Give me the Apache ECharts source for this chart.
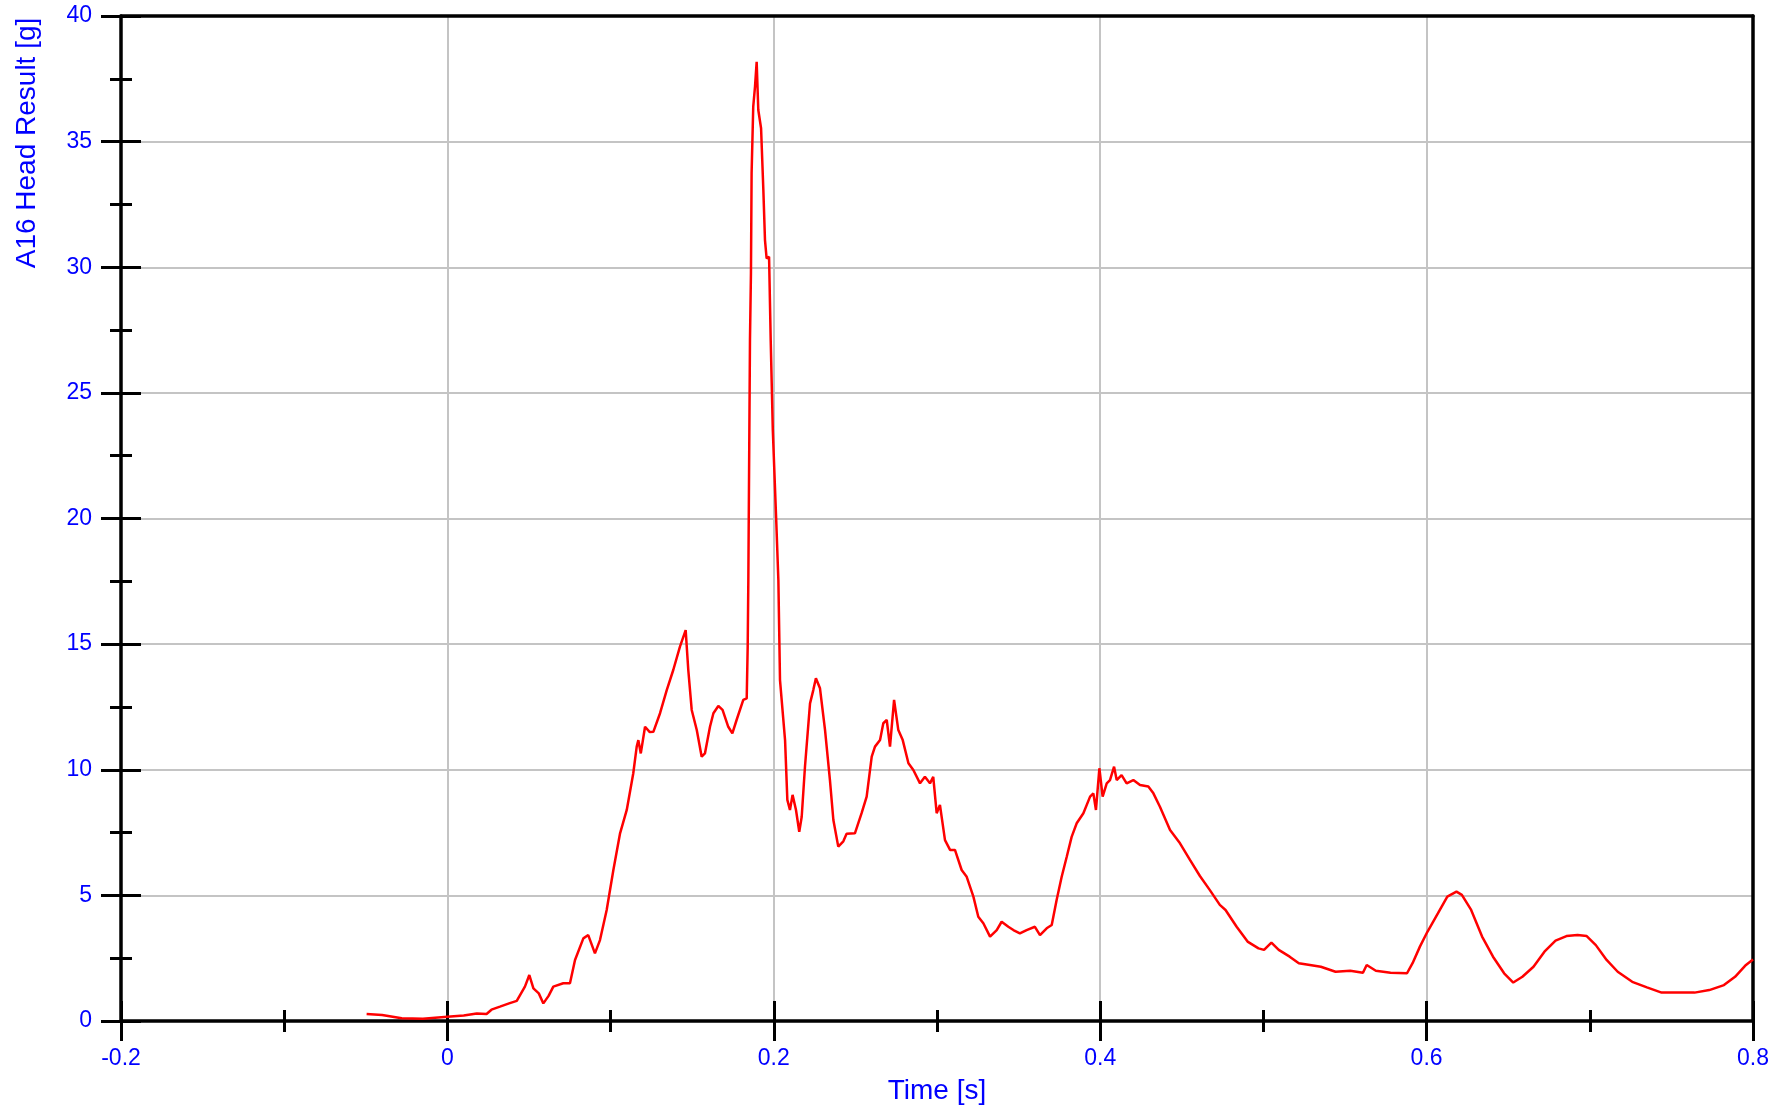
<!DOCTYPE html>
<html>
<head>
<meta charset="utf-8">
<script src="https://cdn.jsdelivr.net/npm/echarts@6/dist/echarts.min.js"></script>
<style>
html,body{margin:0;padding:0;background:#fff;}
#chart{width:1774px;height:1107px;}
</style>
</head>
<body>
<div id="chart"></div>
<script>
// Time [s]
const timeS = [
-0.0495,-0.040,-0.028,-0.015,0.000,0.010,0.018,0.024,0.027,0.0322,0.0378,0.0425,0.0475,0.0502,0.0527,0.0560,0.0588,0.0620,0.0649,0.0710,
0.0751,0.0782,0.0833,0.0863,0.0904,0.0935,0.0976,0.1017,0.1058,0.1099,0.1139,0.1160,0.1170,0.1185,0.1211,0.1240,0.1262,0.1303,0.1344,0.1384,
0.1425,0.1460,0.1476,0.1497,0.1528,0.1558,0.1578,0.1609,0.1630,0.1660,0.1686,0.1721,0.1746,0.1772,0.1813,0.1834,0.1840,0.1844,0.1854,0.1860,
0.1864,0.1874,0.1885,0.1895,0.1905,0.1922,0.1936,0.1946,0.1956,0.1971,0.1981,0.1994,0.2015,0.2028,0.2038,0.2069,0.2083,0.2099,0.2115,0.2136,
0.2156,0.2171,0.2191,0.2222,0.2242,0.2258,0.2283,0.2314,0.2344,0.2365,0.2395,0.2426,0.2446,0.2497,0.2538,0.2569,0.2600,0.2620,0.2651,0.2671,
0.2692,0.2712,0.2737,0.2763,0.2790,0.2825,0.2855,0.2896,0.2926,0.2957,0.2977,0.2998,0.3018,0.3049,0.3080,0.3110,0.3151,0.3182,0.3223,0.3253,
0.3284,0.3325,0.3366,0.3396,0.3437,0.3468,0.3508,0.3549,0.3600,0.3631,0.3672,0.3703,0.3733,0.3764,0.3795,0.3825,0.3856,0.3897,0.3938,0.3958,
0.3974,0.3995,0.4015,0.4040,0.4060,0.4085,0.4101,0.4131,0.4162,0.4203,0.4244,0.4295,0.4326,0.4366,0.4428,0.4489,0.4550,0.4611,0.4672,0.4733,
0.4768,0.4836,0.4903,0.4970,0.5004,0.5049,0.5094,0.5161,0.5217,0.5285,0.5352,0.5442,0.5532,0.5610,0.5633,0.5689,0.5779,0.5880,0.5914,0.5959,
0.6005,0.6070,0.6127,0.6183,0.6216,0.6273,0.6340,0.6407,0.6475,0.6531,0.6587,0.6655,0.6722,0.6790,0.6857,0.6925,0.6981,0.7037,0.7103,0.7171,
0.7260,0.7350,0.7440,0.7530,0.7642,0.7732,0.7822,0.7890,0.7957,0.8000
];
// A16 Head Result [g]
const headG = [
0.28,0.24,0.11,0.09,0.17,0.22,0.30,0.28,0.45,0.57,0.70,0.80,1.37,1.83,1.30,1.10,0.70,1.00,1.37,1.50,
1.50,2.43,3.29,3.42,2.69,3.22,4.42,6.01,7.47,8.40,9.86,10.92,11.18,10.65,11.71,11.50,11.51,12.25,13.17,13.97,
14.90,15.56,13.97,12.38,11.58,10.52,10.65,11.71,12.25,12.54,12.38,11.71,11.45,11.98,12.78,12.84,14.90,17.55,27.10,29.76,
33.74,36.39,37.20,38.18,36.26,35.53,33.07,31.08,30.35,30.42,27.10,23.50,19.90,17.55,13.57,11.18,8.80,8.40,9.00,8.40,
7.53,8.13,10.12,12.64,13.17,13.64,13.24,11.58,9.59,8.00,6.94,7.15,7.45,7.47,8.27,8.93,10.52,10.92,11.18,11.85,
11.98,10.92,12.78,11.58,11.18,10.26,9.99,9.46,9.72,9.46,9.72,8.27,8.60,7.20,6.81,6.81,6.01,5.74,4.95,4.15,
3.89,3.36,3.62,3.95,3.75,3.62,3.49,3.62,3.75,3.42,3.69,3.82,4.82,5.74,6.54,7.33,7.87,8.27,8.93,9.06,
8.40,10.06,8.93,9.46,9.59,10.12,9.59,9.79,9.46,9.59,9.39,9.33,9.06,8.53,7.60,7.07,6.41,5.77,5.21,4.62,
4.42,3.75,3.16,2.89,2.83,3.12,2.83,2.56,2.30,2.23,2.16,1.96,2.00,1.92,2.23,2.00,1.92,1.90,2.30,2.96,
3.55,4.29,4.95,5.15,5.02,4.42,3.36,2.56,1.90,1.53,1.76,2.16,2.76,3.20,3.38,3.42,3.38,3.02,2.43,1.96,
1.56,1.34,1.13,1.13,1.13,1.23,1.43,1.76,2.23,2.45
];
const xTicks = [-0.2, 0, 0.2, 0.4, 0.6, 0.8];
const yTicks = [0, 5, 10, 15, 20, 25, 30, 35, 40];
const xName = 'Time [s]';
const yName = 'A16 Head Result [g]';

const pts = timeS.map((t, i) => [t, headG[i]]);
const BLUE = '#0000ff';
const FONT = 'Liberation Sans, Arial, sans-serif';

const chart = echarts.init(document.getElementById('chart'), null, {renderer: 'canvas'});

const xBase = {min: xTicks[0], max: xTicks[xTicks.length - 1], interval: 0.2, type: 'value', gridIndex: 0};
const yBase = {min: yTicks[0], max: yTicks[yTicks.length - 1], interval: 5, type: 'value', gridIndex: 0};

chart.setOption({
  animation: false,
  backgroundColor: '#ffffff',
  grid: {left: 121, right: 21, top: 16, bottom: 86, containLabel: false, outerBoundsMode: 'none'},
  xAxis: [
    Object.assign({}, xBase, {
      position: 'bottom',
      name: xName, nameLocation: 'middle', nameGap: 56,
      nameTextStyle: {color: BLUE, fontSize: 28, fontFamily: FONT},
      axisLine: {show: true, onZero: false, lineStyle: {color: '#000', width: 3.5}},
      axisTick: {show: true, inside: false, length: 20, lineStyle: {color: '#000', width: 3}},
      minorTick: {show: true, splitNumber: 2, length: 11, lineStyle: {color: '#000', width: 3}},
      axisLabel: {color: BLUE, fontSize: 23, fontFamily: FONT, margin: 26,
        formatter: v => String(+(+v).toFixed(1))},
      splitLine: {show: true, lineStyle: {color: '#c4c4c4', width: 2}}
    }),
    Object.assign({}, xBase, {
      position: 'bottom',
      axisLine: {show: false, onZero: false},
      axisTick: {show: true, inside: true, length: 20, lineStyle: {color: '#000', width: 3}},
      minorTick: {show: true, splitNumber: 2, length: 11, lineStyle: {color: '#000', width: 3}},
      axisLabel: {show: false},
      splitLine: {show: false}
    }),
    Object.assign({}, xBase, {
      position: 'top',
      axisLine: {show: true, onZero: false, lineStyle: {color: '#000', width: 3.5}},
      axisTick: {show: false}, axisLabel: {show: false}, splitLine: {show: false}
    })
  ],
  yAxis: [
    Object.assign({}, yBase, {
      position: 'left',
      axisLine: {show: true, onZero: false, lineStyle: {color: '#000', width: 3.5}},
      axisTick: {show: true, inside: false, length: 20, lineStyle: {color: '#000', width: 3}},
      minorTick: {show: true, splitNumber: 2, length: 11, lineStyle: {color: '#000', width: 3}},
      axisLabel: {color: BLUE, fontSize: 23, fontFamily: FONT, margin: 29},
      splitLine: {show: true, lineStyle: {color: '#c4c4c4', width: 2}}
    }),
    Object.assign({}, yBase, {
      position: 'left',
      axisLine: {show: false, onZero: false},
      axisTick: {show: true, inside: true, length: 20, lineStyle: {color: '#000', width: 3}},
      minorTick: {show: true, splitNumber: 2, length: 11, lineStyle: {color: '#000', width: 3}},
      axisLabel: {show: false},
      splitLine: {show: false}
    }),
    Object.assign({}, yBase, {
      position: 'right',
      axisLine: {show: true, onZero: false, lineStyle: {color: '#000', width: 3.5}},
      axisTick: {show: false}, axisLabel: {show: false}, splitLine: {show: false}
    })
  ],
  graphic: [{
    type: 'text',
    x: 27, y: 143,
    rotation: Math.PI / 2,
    style: {text: yName, fill: BLUE, fontSize: 28, fontFamily: FONT, align: 'center', verticalAlign: 'middle'}
  }],
  series: [{
    type: 'line',
    xAxisIndex: 0, yAxisIndex: 0,
    data: pts,
    showSymbol: false,
    symbol: 'none',
    clip: true,
    lineStyle: {color: '#ff0000', width: 2.5},
    z: 3
  }]
});
</script>
</body>
</html>
